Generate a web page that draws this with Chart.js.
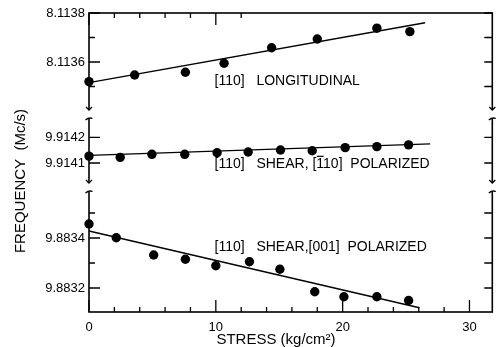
<!DOCTYPE html>
<html>
<head>
<meta charset="utf-8">
<script src="https://cdn.jsdelivr.net/npm/chart.js@4.4.0/dist/chart.umd.min.js"></script>
<style>
  html, body { margin: 0; padding: 0; background: #fff; }
  canvas { display: block; }
</style>
</head>
<body>
<canvas id="freq-chart" width="497" height="347"></canvas>
<script>
// [110] longitudinal mode
let longStress = [0, 3.6, 7.6, 10.65, 14.4, 18.0, 22.7, 25.3]
let longFreq = [8.113520, 8.113547, 8.113558, 8.113595, 8.113658, 8.113694, 8.113738, 8.113724]
let longFitStress = [0, 26.5]
let longFitFreq = [8.113516, 8.113760]

// [110] shear, [1-10] polarized
let shearAStress = [0, 2.46, 4.96, 7.55, 10.1, 12.55, 15.1, 17.6, 20.2, 22.7, 25.2]
let shearAFreq = [9.914127, 9.914122, 9.914134, 9.914134, 9.914140, 9.914143, 9.914151, 9.914148, 9.914160, 9.914164, 9.914171]
let shearAFitStress = [0, 26.9]
let shearAFitFreq = [9.914130, 9.914175]

// [110] shear, [001] polarized
let shearBStress = [0, 2.15, 5.1, 7.6, 10.0, 12.65, 15.05, 17.8, 20.1, 22.7, 25.2]
let shearBFreq = [9.883456, 9.883401, 9.883332, 9.883315, 9.883289, 9.883305, 9.883275, 9.883185, 9.883165, 9.883165, 9.883150]
let shearBFitStress = [0, 26.05]
let shearBFitFreq = [9.883428, 9.883121]

// axis ticks
let stressTicks = [0, 2, 4, 6, 8, 10, 12, 14, 16, 18, 20, 22, 24, 26, 28, 30]
let stressLabels = [0, 10, 20, 30]
let topTicks = [8.1135, 8.1136, 8.1137, 8.1138]
let topLabels = ['8.1136', '8.1138']
let midTicks = [9.9141, 9.9142]
let midLabels = ['9.9141', '9.9142']
let botTicks = [9.8832, 9.8833, 9.8834, 9.8835]
let botLabels = ['9.8832', '9.8834']

function toPoints(xs, ys) {
  return xs.map(function (x, i) { return { x: x, y: ys[i] } })
}

function pointSet(xs, ys, axis) {
  return {
    data: toPoints(xs, ys), yAxisID: axis, showLine: false,
    pointRadius: 4.7, pointBorderWidth: 0, backgroundColor: '#000', clip: false
  }
}

function lineSet(xs, ys, axis) {
  return {
    data: toPoints(xs, ys), yAxisID: axis, showLine: true,
    pointRadius: 0, borderColor: '#000', borderWidth: 1.4, clip: false
  }
}

const FONT = '"Liberation Sans", Arial, sans-serif'

const framePlugin = {
  id: 'frame',
  beforeDatasetsDraw(chart) {
    const ctx = chart.ctx
    const a = chart.chartArea
    const sx = chart.scales.x
    ctx.save()
    ctx.strokeStyle = '#000'
    ctx.fillStyle = '#000'
    ctx.lineWidth = 1.6
    ctx.strokeRect(a.left, a.top, a.right - a.left, a.bottom - a.top)

    // stress ticks, bottom full width, top only the first few
    ctx.lineWidth = 1.3
    ctx.beginPath()
    stressTicks.forEach(function (v) {
      const px = sx.getPixelForValue(v)
      const len = stressLabels.includes(v) ? 12 : 5
      ctx.moveTo(px, a.bottom)
      ctx.lineTo(px, a.bottom - len)
      if (v <= 12) {
        ctx.moveTo(px, a.top)
        ctx.lineTo(px, a.top + len)
      }
    })
    ctx.stroke()

    ctx.font = '13px ' + FONT
    ctx.textAlign = 'center'
    ctx.textBaseline = 'middle'
    stressLabels.forEach(function (v) {
      ctx.fillText(String(v), sx.getPixelForValue(v), a.bottom + 15)
    })

    // frequency ticks on each panel
    const panels = [
      [chart.scales.yTop, topTicks, topLabels],
      [chart.scales.yMid, midTicks, midLabels],
      [chart.scales.yBot, botTicks, botLabels]
    ]
    ctx.textAlign = 'right'
    panels.forEach(function (p) {
      const scale = p[0]
      ctx.beginPath()
      p[1].forEach(function (v) {
        const py = scale.getPixelForValue(v)
        const labelled = p[2].includes(v.toFixed(4))
        ctx.moveTo(a.left, py)
        ctx.lineTo(a.left + (labelled ? 11 : 6), py)
        ctx.moveTo(a.right, py)
        ctx.lineTo(a.right - 8, py)
      })
      ctx.stroke()
      p[2].forEach(function (t) {
        ctx.fillText(t, a.left - 4, scale.getPixelForValue(parseFloat(t)))
      })
    })

    // axis breaks between the panels
    const breaks = [chart.scales.yTop.bottom, chart.scales.yMid.bottom]
    breaks.forEach(function (b) {
      [a.left, a.right].forEach(function (x) {
        ctx.fillStyle = '#fff'
        ctx.fillRect(x - 2, b - 4.5, 4, 9)
        ctx.beginPath()
        ctx.moveTo(x - 3, b - 7.5)
        ctx.lineTo(x, b - 4.5)
        ctx.lineTo(x + 3, b - 7.5)
        ctx.moveTo(x - 3.5, b + 5.5)
        ctx.quadraticCurveTo(x, b + 2.5, x + 3.5, b + 4)
        ctx.stroke()
      })
    })

    // axis titles
    ctx.fillStyle = '#000'
    ctx.font = '15px ' + FONT
    ctx.textAlign = 'center'
    ctx.fillText('STRESS (kg/cm\u00b2)', 276, a.bottom + 28)
    ctx.save()
    ctx.translate(21, 181)
    ctx.rotate(-Math.PI / 2)
    ctx.fillText('FREQUENCY  (Mc/s)', 0, 0)
    ctx.restore()
    ctx.restore()
  },
  afterDatasetsDraw(chart) {
    const ctx = chart.ctx
    const sx = chart.scales.x
    ctx.save()
    ctx.fillStyle = '#000'
    ctx.strokeStyle = '#000'
    ctx.font = '14px ' + FONT
    ctx.textAlign = 'left'
    ctx.textBaseline = 'middle'
    const x1 = sx.getPixelForValue(9.9)
    const x2 = sx.getPixelForValue(13.2)

    let y = chart.scales.yTop.getPixelForValue(8.113522)
    ctx.fillText('[110]', x1, y)
    ctx.fillText('LONGITUDINAL', x2, y)

    y = chart.scales.yMid.getPixelForValue(9.9140967)
    ctx.fillText('[110]', x1, y)
    ctx.fillText('SHEAR, [110]  POLARIZED', x2, y)
    // bar over the first index of [110]
    const ox = x2 + ctx.measureText('SHEAR, [').width
    const ow = ctx.measureText('1').width
    ctx.lineWidth = 1.2
    ctx.beginPath()
    ctx.moveTo(ox + 0.5, y - 7.5)
    ctx.lineTo(ox + ow - 0.5, y - 7.5)
    ctx.stroke()

    y = chart.scales.yBot.getPixelForValue(9.883364)
    ctx.fillText('[110]', x1, y)
    ctx.fillText('SHEAR,[001]  POLARIZED', x2, y)
    ctx.restore()
  }
}

document.addEventListener('DOMContentLoaded', () => {
  // stacked frequency axes are laid out bottom panel first
  new Chart(document.getElementById('freq-chart'), {
    type: 'scatter',
    data: {
      datasets: [
        pointSet(longStress, longFreq, 'yTop'),
        lineSet(longFitStress, longFitFreq, 'yTop'),
        pointSet(shearAStress, shearAFreq, 'yMid'),
        lineSet(shearAFitStress, shearAFitFreq, 'yMid'),
        pointSet(shearBStress, shearBFreq, 'yBot'),
        lineSet(shearBFitStress, shearBFitFreq, 'yBot')
      ]
    },
    options: {
      responsive: false,
      animation: false,
      layout: { padding: { left: 89, top: 13, right: 2, bottom: 35 } },
      plugins: { legend: { display: false }, tooltip: { enabled: false } },
      scales: {
        x: { type: 'linear', min: 0, max: 31.8, display: false },
        yBot: { type: 'linear', position: 'left', stack: 'freq', stackWeight: 124.5,
                min: 9.883104, max: 9.883602, display: false },
        yMid: { type: 'linear', position: 'left', stack: 'freq', stackWeight: 73,
                min: 9.9140039, max: 9.91429, display: false },
        yTop: { type: 'linear', position: 'left', stack: 'freq', stackWeight: 101.5,
                min: 8.1133857, max: 8.1138, display: false }
      }
    },
    plugins: [framePlugin]
  })
})
</script>
</body>
</html>
